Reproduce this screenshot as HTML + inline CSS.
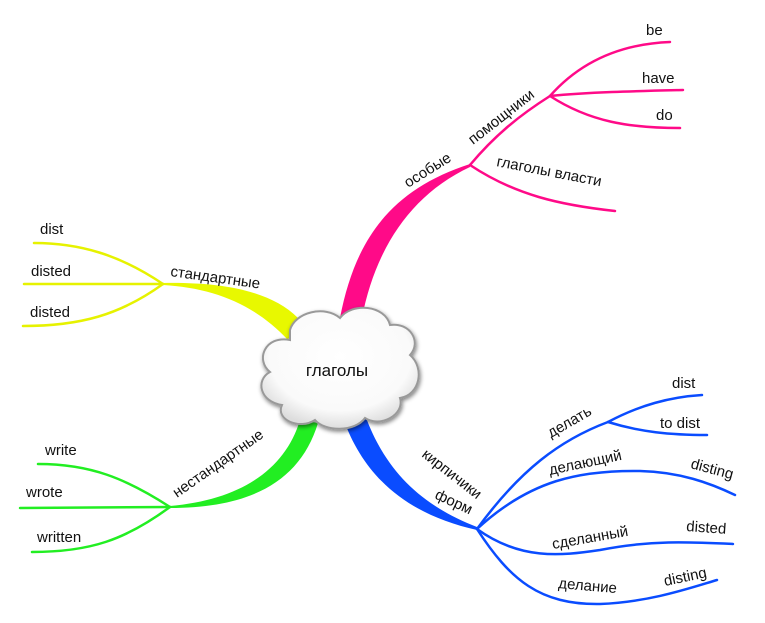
<!DOCTYPE html>
<html><head><meta charset="utf-8"><style>
html,body{margin:0;padding:0;background:#fff}
svg{display:block}
text{font-family:"Liberation Sans","DejaVu Sans",sans-serif;font-size:15px;fill:#111}
</style></head><body>
<svg width="765" height="623" viewBox="0 0 765 623" xmlns="http://www.w3.org/2000/svg">
<defs>
<filter id="sh" x="-20%" y="-20%" width="140%" height="140%"><feGaussianBlur in="SourceAlpha" stdDeviation="2"/><feOffset dx="1" dy="2"/><feComponentTransfer><feFuncA type="linear" slope="0.5"/></feComponentTransfer><feMerge><feMergeNode/><feMergeNode in="SourceGraphic"/></feMerge></filter>
<radialGradient id="cg" cx="50%" cy="40%" r="60%"><stop offset="0" stop-color="#fff"/><stop offset="0.75" stop-color="#fafafa"/><stop offset="1" stop-color="#ddd"/></radialGradient>
</defs>
<g fill="none" stroke-linecap="round">
<!-- yellow -->
<path d="M298,318 C270,290 220,282 163,283 L163,285 C215,288 255,305 288,340 Z" fill="#e8f800" stroke="none"/>
<g stroke="#e6f200" stroke-width="2.5">
<path d="M163,284 C120,255 80,243 34,243"/>
<path d="M163,284 L24,284"/>
<path d="M163,284 C120,315 80,326 23,326"/>
</g>
<!-- green -->
<path d="M170,506 C240,500 285,470 300,420 L318,423 C300,482 250,508 170,508 Z" fill="#22ee22" stroke="none"/>
<g stroke="#22ee22" stroke-width="2.5">
<path d="M170,507 C125,478 90,464 38,464"/>
<path d="M170,507 L20,508"/>
<path d="M170,507 C125,540 90,552 32,552"/>
</g>
<!-- pink -->
<path d="M340,318 C355,240 390,190 470,164 L470,167 C410,195 375,250 362,318 Z" fill="#ff0a88" stroke="none"/>
<g stroke="#ff0a88" stroke-width="2.5">
<path d="M470,165 C495,135 520,115 550,96"/>
<path d="M550,96 C580,62 620,44 670,42"/>
<path d="M550,96 C590,92 640,91 683,90"/>
<path d="M550,96 C590,122 630,128 680,128"/>
<path d="M470,165 C515,195 560,205 615,211"/>
</g>
<!-- blue -->
<path d="M343,418 C365,480 410,515 477,530 L477,527 C420,505 385,470 365,415 Z" fill="#0a4cff" stroke="none"/>
<g stroke="#0a4cff" stroke-width="2.5">
<path d="M477,529 C520,470 560,440 608,422"/>
<path d="M608,422 C640,405 670,397 702,395"/>
<path d="M608,422 C640,432 670,435 707,435"/>
<path d="M477,529 C530,480 580,470 640,471 C680,472 710,483 735,495"/>
<path d="M477,529 C520,560 560,556 600,550 C650,540 690,542 733,544"/>
<path d="M477,529 C510,580 540,605 600,604 C650,602 690,588 717,580"/>
</g>
</g>
<!-- cloud -->
<g filter="url(#sh)">
<path d="M290,330 C295,312 325,305 340,318 C352,302 385,305 390,325 C410,322 422,342 410,355 C425,368 420,395 400,398 C405,415 380,428 365,418 C355,432 325,432 315,420 C300,430 275,420 282,405 C260,402 255,380 270,372 C255,360 265,335 290,340 Z" fill="url(#cg)" stroke="#999" stroke-width="2"/>
</g>
<text x="337" y="376" text-anchor="middle" style="font-size:17px">глаголы</text>
<!-- labels -->
<text x="40" y="234">dist</text>
<text x="31" y="276">disted</text>
<text x="30" y="317">disted</text>
<text x="170" y="276" transform="rotate(8 170 276)">стандартные</text>
<text x="45" y="455">write</text>
<text x="26" y="497">wrote</text>
<text x="37" y="542">written</text>
<text x="177" y="498" transform="rotate(-35 177 498)">нестандартные</text>
<text x="408" y="188" transform="rotate(-32 408 188)">особые</text>
<text x="473" y="145" transform="rotate(-38 473 145)">помощники</text>
<text x="496" y="166" transform="rotate(11 496 166)">глаголы власти</text>
<text x="646" y="35">be</text>
<text x="642" y="83">have</text>
<text x="656" y="120">do</text>
<text x="421" y="456" transform="rotate(38 421 456)">кирпичики</text>
<text x="434" y="498" transform="rotate(25 434 498)">форм</text>
<text x="551" y="438" transform="rotate(-30 551 438)">делать</text>
<text x="672" y="388">dist</text>
<text x="660" y="428">to dist</text>
<text x="550" y="475" transform="rotate(-12 550 475)">делающий</text>
<text x="690" y="468" transform="rotate(15 690 468)">disting</text>
<text x="553" y="549" transform="rotate(-10 553 549)">сделанный</text>
<text x="686" y="531" transform="rotate(4 686 531)">disted</text>
<text x="558" y="588" transform="rotate(5 558 588)">делание</text>
<text x="665" y="586" transform="rotate(-12 665 586)">disting</text>
</svg>
</body></html>
